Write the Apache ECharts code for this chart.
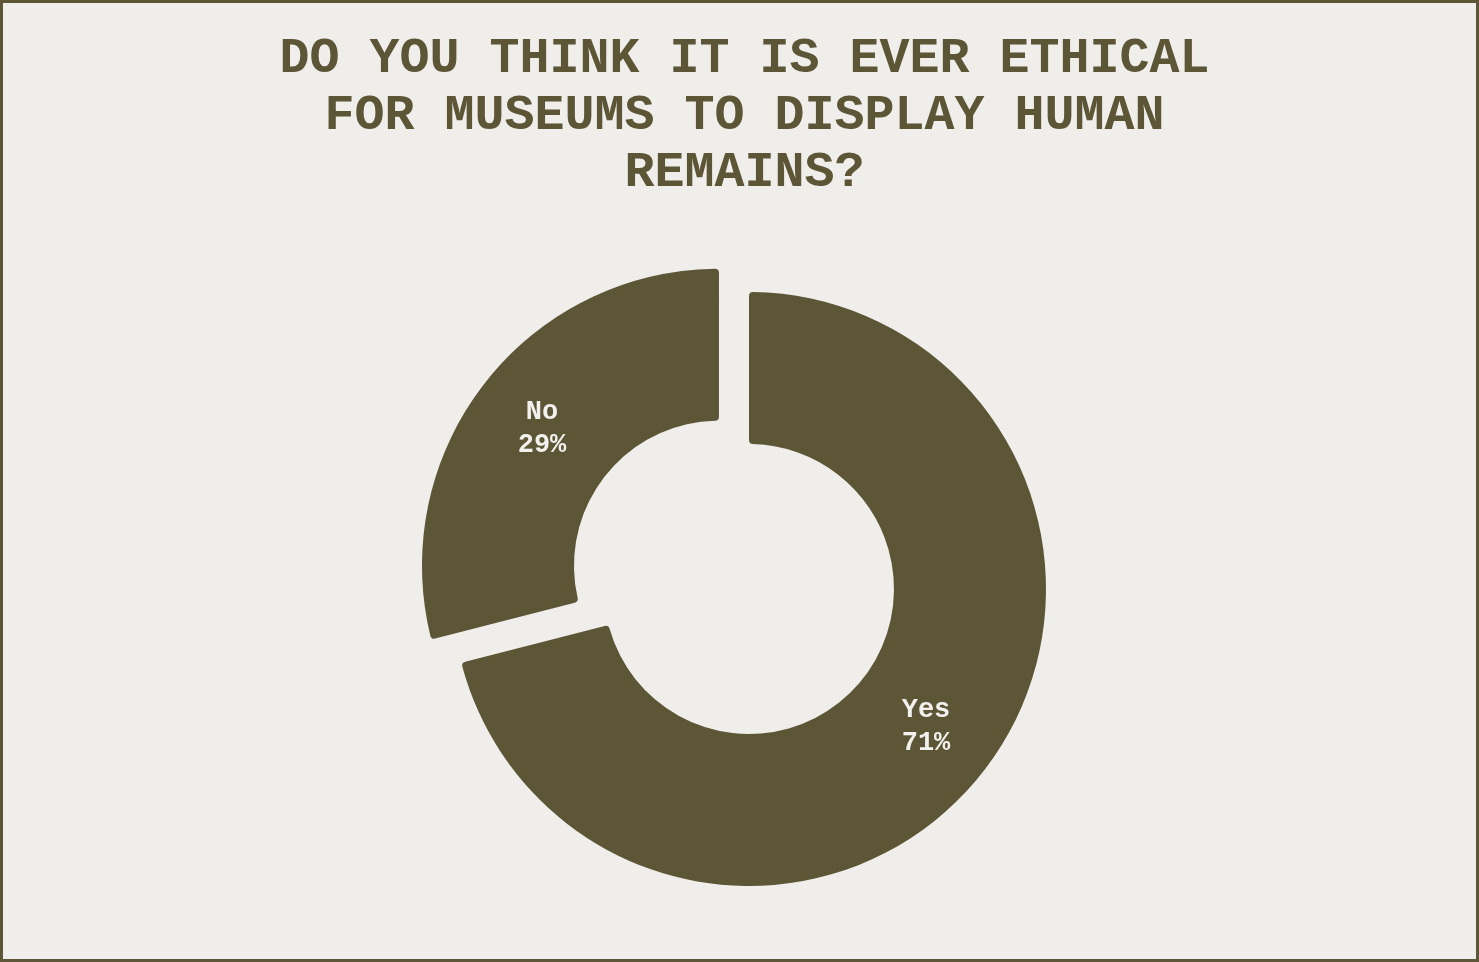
<!DOCTYPE html>
<html>
  <head>
    <meta charset="utf-8">
    <title>Human remains poll</title>
    <script src="https://cdn.jsdelivr.net/npm/echarts@6/dist/echarts.min.js"></script>
    <style>
      html, body { margin: 0; padding: 0; background: #efeeea; }
      #chart { width: 1479px; height: 962px; }
    </style>
  </head>
  <body>
    <div id="chart"></div>
  <script>
    // poll answers
    var answers = ['Yes', 'No'];
    var shares = [71, 29];
    var pulled = ['No'];

    var olive = '#5c5536';
    var paper = '#efeeea';

    var myChart = echarts.init(document.getElementById('chart'));
    var option = {
      backgroundColor: paper,
      animation: false,
      title: {
        text: 'DO YOU THINK IT IS EVER ETHICAL\nFOR MUSEUMS TO DISPLAY HUMAN\nREMAINS?',
        left: 739.5,
        top: 26,
        textAlign: 'center',
        textStyle: {
          fontFamily: "'Courier New', 'Liberation Mono', monospace",
          fontWeight: 'bold',
          fontSize: 50,
          lineHeight: 57,
          color: olive
        }
      },
      graphic: [{
        type: 'rect',
        shape: { x: 1.5, y: 1.5, width: 1476, height: 959 },
        style: { fill: 'none', stroke: olive, lineWidth: 3 },
        silent: true
      }],
      series: [{
        type: 'pie',
        center: [749, 589],
        radius: [145, 297],
        startAngle: 90,
        clockwise: true,
        selectedMode: 'single',
        selectedOffset: 38,
        itemStyle: { color: olive, borderRadius: 4 },
        label: {
          position: 'inside',
          formatter: '{b}\n{d}%',
          fontFamily: "'Courier New', 'Liberation Mono', monospace",
          fontWeight: 'bold',
          fontSize: 27,
          lineHeight: 33,
          color: '#f2f1ed'
        },
        labelLine: { show: false },
        emphasis: { disabled: true },
        data: answers.map(function (a, i) {
          return { name: a, value: shares[i], selected: pulled.indexOf(a) >= 0 };
        })
      }]
    };
    myChart.setOption(option);
  </script>
  </body>
</html>
